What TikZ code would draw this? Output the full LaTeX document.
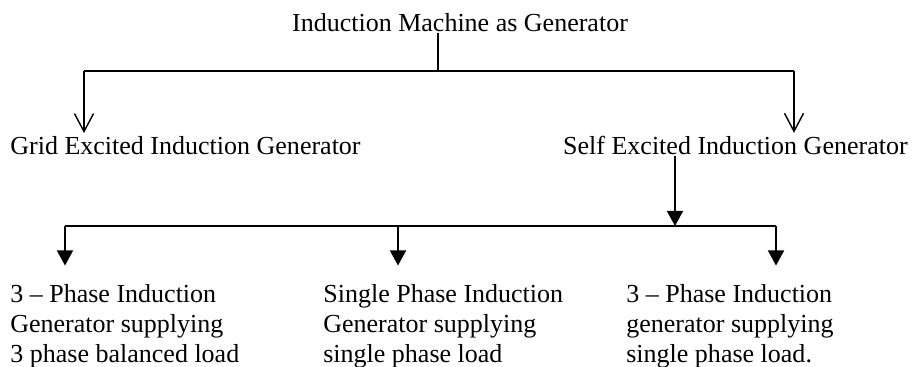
\documentclass[tikz,border=0pt]{standalone}
\usepackage{fontspec}
\setmainfont{Liberation Serif}
\usetikzlibrary{arrows.meta,positioning}

\begin{document}
\begin{tikzpicture}[every node/.style={font=\fontsize{14.8}{17.07}\selectfont,inner sep=0pt},
  column/.style={align=left,anchor=north west},
  wire/.style={line width=0.8pt},
  openhead/.style={wire,-{Straight Barb[length=0.36cm,width=0.38cm,line width=0.8pt]},shorten >=2pt},
  fullhead/.style={wire,-{Triangle[length=0.3cm,width=0.32cm]}}]
\useasboundingbox (0,0) rectangle (18.24,-7.34);
\node[anchor=base] (top) at (9.2,-0.64) {Induction Machine as Generator};
\node[anchor=base west] (grid) at (0.2,-3.1) {Grid Excited Induction Generator};
\node[anchor=base east] (self) at (18.16,-3.1) {Self Excited Induction Generator};
\node[column] (bal) at (0.2,-5.69) {3 -- Phase Induction\\Generator supplying\\3 phase balanced load};
\node[column] (one) at (6.46,-5.69) {Single Phase Induction\\Generator supplying\\single phase load};
\node[column] (unb) at (12.52,-5.69) {3 -- Phase Induction\\generator supplying\\single phase load.};
% first split
\coordinate (split) at (8.76,-1.42);
\coordinate (ga) at (1.68,-1.42);
\coordinate (sa) at (15.88,-1.42);
\draw[wire] (top.south -| split) -- (split);
\draw[wire] (ga) -- (sa);
\draw[openhead] (ga) -- (ga |- grid.north);
\draw[openhead] (sa) -- (sa |- self.north);
% second split
\coordinate (hub) at (13.5,-4.52);
\coordinate (b1) at (1.3,-4.52);
\coordinate (b2) at (7.96,-4.52);
\coordinate (b3) at (15.52,-4.52);
\draw[fullhead] (self.south -| hub) -- (hub);
\draw[wire] (b1) -- (b3);
\foreach \b/\n in {b1/bal,b2/one,b3/unb}
  \draw[fullhead,shorten >=0.38cm] (\b) -- (\b |- \n.north);
\end{tikzpicture}
\end{document}
